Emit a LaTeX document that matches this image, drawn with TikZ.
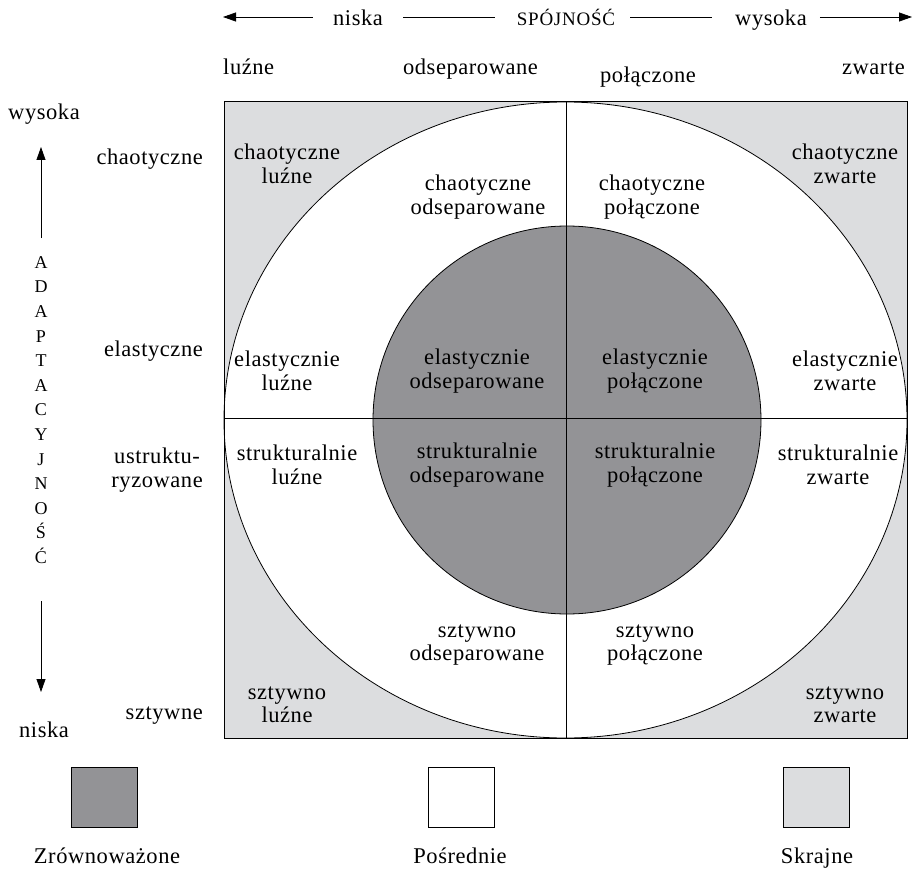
\documentclass[tikz,border=0pt]{standalone}
\usepackage{fontspec}
\setmainfont{Liberation Serif}
\usetikzlibrary{arrows.meta}
\definecolor{lightg}{HTML}{DCDDDF}
\definecolor{darkg}{HTML}{939396}
\begin{document}
\begin{tikzpicture}[x=1pt,y=-1pt,
  lbl/.style={font=\fontsize{22.5}{23.5}\selectfont\addfontfeature{LetterSpace=2.5}, align=center, inner sep=0pt},
  capsl/.style={font=\fontsize{19}{21}\selectfont\addfontfeature{LetterSpace=4}, align=center, inner sep=0pt},
  vcaps/.style={font=\fontsize{18}{24.6}\selectfont, align=center, inner sep=0pt},
  ln/.style={line width=0.8pt},
  arr/.style={line width=0.8pt, -{Triangle[length=13pt,width=9pt]}},
  legbox/.style={draw, line width=0.8pt, minimum width=66pt, minimum height=60pt, inner sep=0pt}]
\useasboundingbox (0,0) rectangle (919,872);
% regions
\fill[lightg] (224,102) rectangle (907,738);
\fill[white] (565.5,420) ellipse [x radius=341.5, y radius=318];
\fill[darkg] (567,420) circle [radius=194];
\draw[ln] (565.5,420) ellipse [x radius=341.5, y radius=318];
\draw[ln] (567,420) circle [radius=194];
\draw[ln] (566,102) -- (566,738);
\draw[ln] (224,418) -- (907,418);
\draw[line width=1pt] (224,102) rectangle (907,738);
% top axis
\coordinate (tl) at (223,17);
\coordinate (tr) at (912,17);
\node[lbl, anchor=base] (tnis) at (358,26) {niska};
\node[capsl, anchor=base] (spoj) at (566,26) {SPÓJNOŚĆ};
\node[lbl, anchor=base] (twys) at (771,26) {wysoka};
\draw[arr] ([xshift=-20pt]tnis.west |- tl) -- (tl);
\draw[ln] ([xshift=20pt]tnis.east |- tl) -- ([xshift=-22pt]spoj.west |- tl);
\draw[ln] ([xshift=15pt]spoj.east |- tl) -- ([xshift=-23pt]twys.west |- tl);
\draw[arr] ([xshift=13pt]twys.east |- tr) -- (tr);
% column labels
\node[lbl, anchor=base west] (cl1) at (223,75) {luźne};
\node[lbl, anchor=base] (cl2) at (470.5,75) {odseparowane};
\node[lbl, anchor=base] (cl3) at (648,83) {połączone};
\node[lbl, anchor=base east] (cl4) at (905,75) {zwarte};
% left axis
\node[lbl, anchor=base] (lwys) at (44,120) {wysoka};
\node[lbl, anchor=base] (lnis) at (44,737) {niska};
\node[vcaps] (adapt) at (41,410) {A\\D\\A\\P\\T\\A\\C\\Y\\J\\N\\O\\Ś\\Ć};
\coordinate (au) at (41,147);
\coordinate (ad) at (41,692);
\coordinate (a1) at (41,238);
\coordinate (a2) at (41,601);
\draw[arr] (a1) -- (au);
\draw[arr] (a2) -- (ad);
% row labels
\node[lbl, anchor=base east] (r1) at (203,165) {chaotyczne};
\node[lbl, anchor=base east] (r2) at (203,356) {elastyczne};
\node[lbl, anchor=north east] (r3) at (203,448) {ustruktu-\\ryzowane};
\node[lbl, anchor=base east] (r4) at (203,719) {sztywne};
% cells
\node[lbl] (c11) at (287,164) {chaotyczne\\luźne};
\node[lbl] (c12) at (478,197) {chaotyczne\\odseparowane};
\node[lbl] (c13) at (652,197) {chaotyczne\\połączone};
\node[lbl] (c14) at (845,164) {chaotyczne\\zwarte};
\node[lbl] (c21) at (287,371) {elastycznie\\luźne};
\node[lbl] (c22) at (477,371) {elastycznie\\odseparowane};
\node[lbl] (c23) at (655,371) {elastycznie\\połączone};
\node[lbl] (c24) at (845,371) {elastycznie\\zwarte};
\node[lbl] (c31) at (297,465) {strukturalnie\\luźne};
\node[lbl] (c32) at (477,465) {strukturalnie\\odseparowane};
\node[lbl] (c33) at (655,465) {strukturalnie\\połączone};
\node[lbl] (c34) at (838,465) {strukturalnie\\zwarte};
\node[lbl] (c42) at (477,645) {sztywno\\odseparowane};
\node[lbl] (c43) at (655,645) {sztywno\\połączone};
\node[lbl] (c41) at (287,705) {sztywno\\luźne};
\node[lbl] (c44) at (845,705) {sztywno\\zwarte};
% legend
\node[legbox, fill=darkg] (k1) at (104,797) {};
\node[legbox, fill=white] (k2) at (461,797) {};
\node[legbox, fill=lightg] (k3) at (816,797) {};
\node[lbl, anchor=base] (t1) at (107,863) {Zrównoważone};
\node[lbl, anchor=base] (t2) at (460,863) {Pośrednie};
\node[lbl, anchor=base] (t3) at (817,863) {Skrajne};
\end{tikzpicture}
\end{document}
